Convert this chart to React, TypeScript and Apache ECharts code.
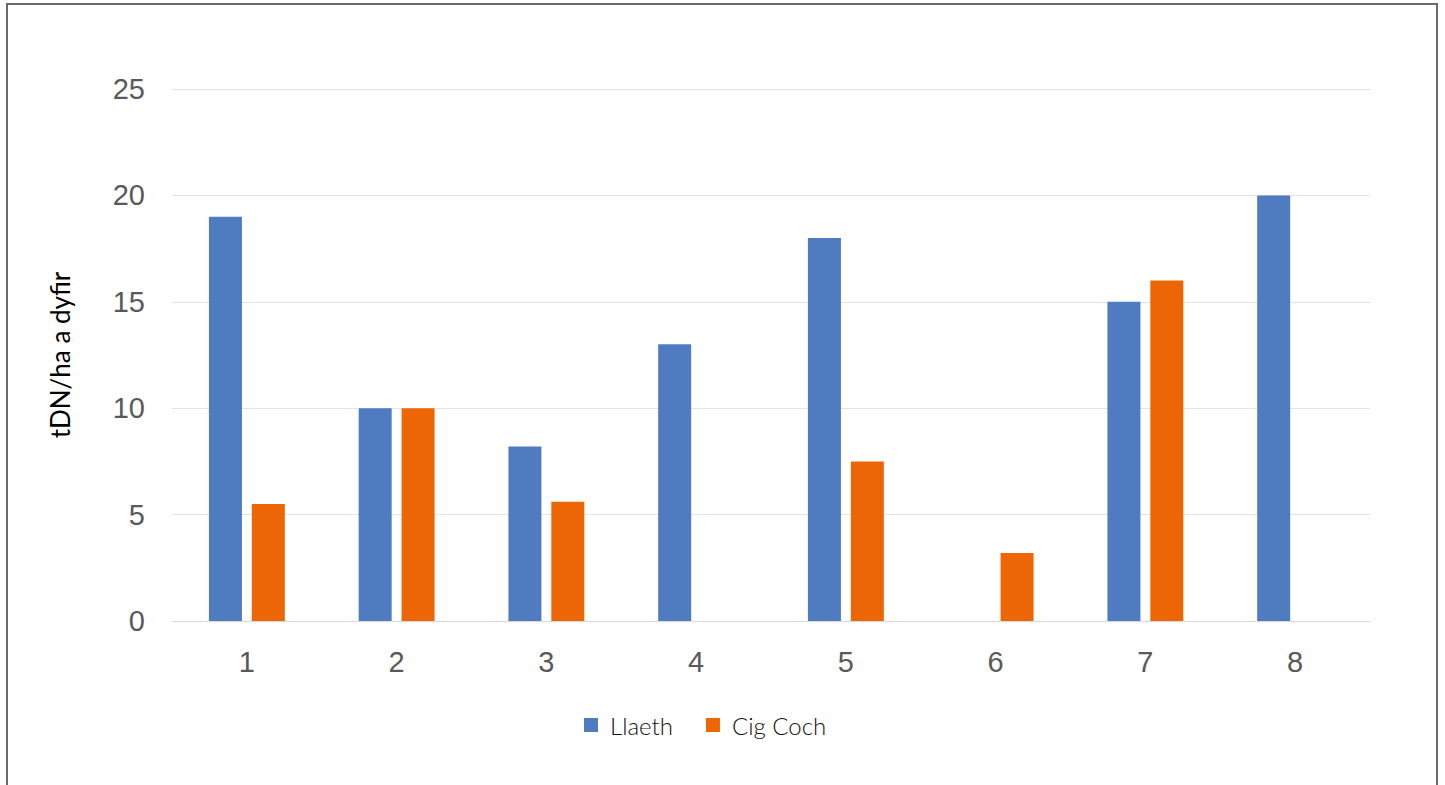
import React, { useEffect, useRef } from "react";
import * as echarts from "echarts";

const categories = ["1", "2", "3", "4", "5", "6", "7", "8"];
const llaeth: (number | null)[] = [19, 10, 8.2, 13, 18, null, 15, 20];
const cigCoch: (number | null)[] = [5.5, 10, 5.6, null, 7.5, 3.2, 16, null];
const yTitle = "tDN/ha a dyfir";

export default function App() {
  const ref = useRef<HTMLDivElement>(null);
  useEffect(() => {
    document.body.style.margin = "0";
    const chart = echarts.init(ref.current!, null, { renderer: "svg" });
    chart.setOption({
      animation: false,
      backgroundColor: "#ffffff",
      graphic: [
        {
          type: "rect",
          shape: { x: 7, y: 4, width: 1430, height: 820 },
          style: { fill: "none", stroke: "#6a6a6a", lineWidth: 2 },
          silent: true,
        },
      ],
      grid: { left: 172, right: 75, top: 89, bottom: 785 - 621 },
      legend: {
        bottom: 43,
        left: 579,
        itemWidth: 14,
        itemHeight: 14,
        itemGap: 33,
        icon: "rect",
        textStyle: {
          fontFamily: "Lato",
          fontWeight: 300,
          fontSize: 24,
          color: "#111111",
          padding: [0, 0, 0, 7],
        },
        data: ["Llaeth", "Cig Coch"],
      },
      xAxis: {
        type: "category",
        data: categories,
        axisLine: { show: true, lineStyle: { color: "#d9d9d9", width: 1 } },
        axisTick: { show: false },
        axisLabel: { fontFamily: "Liberation Sans", fontSize: 29, color: "#595959", margin: 26 },
      },
      yAxis: {
        type: "value",
        min: 0,
        max: 25,
        interval: 5,
        name: yTitle,
        nameLocation: "middle",
        nameGap: 99,
        nameRotate: 90,
        nameTextStyle: { fontFamily: "Lato", fontWeight: "normal", fontSize: 26, color: "#000000" },
        axisLine: { show: false },
        axisTick: { show: false },
        splitLine: { lineStyle: { color: "#e3e3e3", width: 1 } },
        axisLabel: { fontFamily: "Liberation Sans", fontSize: 29, color: "#595959", margin: 27 },
      },
      series: [
        {
          name: "Llaeth",
          type: "bar",
          data: llaeth,
          barWidth: 33,
          barGap: "30%",
          itemStyle: { color: "#4f7bc1" },
        },
        {
          name: "Cig Coch",
          type: "bar",
          data: cigCoch,
          barWidth: 33,
          barGap: "30%",
          itemStyle: { color: "#ed6605" },
        },
      ],
    });
    return () => chart.dispose();
  }, []);
  return <div ref={ref} style={{ width: 1445, height: 785 }} />;
}
